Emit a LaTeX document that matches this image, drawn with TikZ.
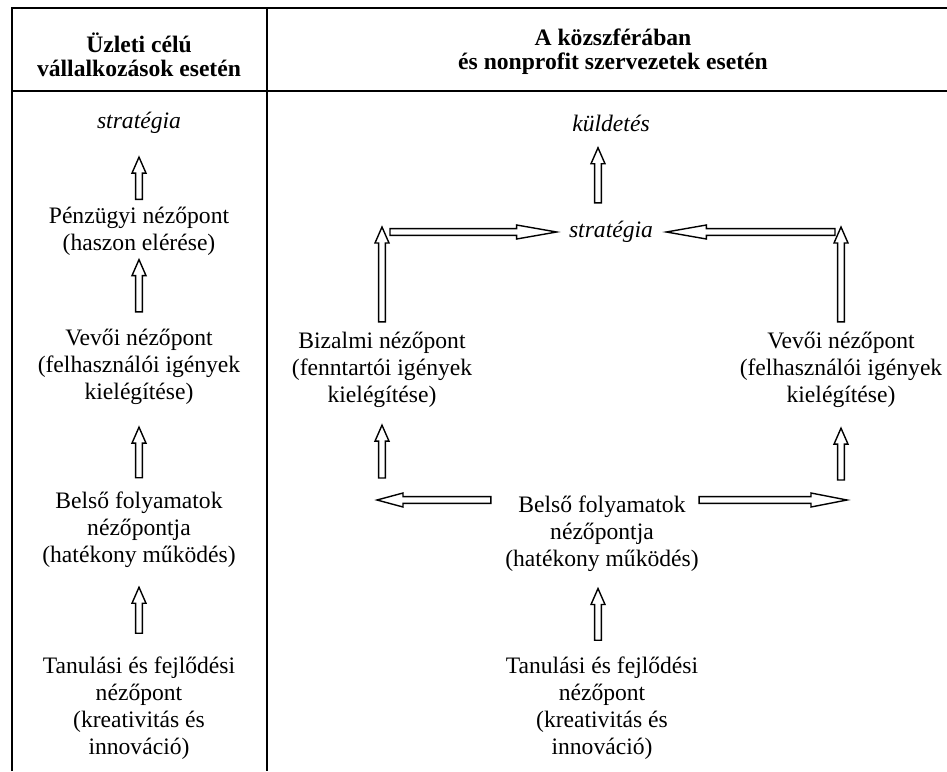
\documentclass[tikz,border=0pt]{standalone}
\usepackage{fontspec}
\setmainfont{Liberation Serif}
\usetikzlibrary{calc}

\tikzset{
  gap start/.store in=\gapA, gap start=0pt,
  gap end/.store in=\gapB, gap end=0pt,
  tip length/.store in=\tipL, tip length=8pt,
  hollow/.style={line width=0.7pt, to path={
    ($(\tikztostart)!\gapA!(\tikztotarget)!1.7pt!90:(\tikztotarget)$)
    -- ($(\tikztotarget)!\gapB+\tipL!(\tikztostart)!1.7pt!-90:(\tikztostart)$)
    -- ($(\tikztotarget)!\gapB+\tipL!(\tikztostart)!3.5pt!-90:(\tikztostart)$)
    -- ($(\tikztotarget)!\gapB!(\tikztostart)$)
    -- ($(\tikztotarget)!\gapB+\tipL!(\tikztostart)!3.5pt!90:(\tikztostart)$)
    -- ($(\tikztotarget)!\gapB+\tipL!(\tikztostart)!1.7pt!90:(\tikztostart)$)
    -- ($(\tikztostart)!\gapA!(\tikztotarget)!1.7pt!-90:(\tikztotarget)$)
    -- cycle}},
  rule/.style={line width=1.2pt},
  headtxt/.style={font=\bfseries\fontsize{11.8}{12}\selectfont}
}

\begin{document}
\begin{tikzpicture}
[x=0.5pt, y=-0.5pt, every node/.style={inner sep=0pt, align=center, font=\fontsize{11.8}{13.5}\selectfont}]
\useasboundingbox (0, 0) rectangle (947, 771);
\node (hl) [headtxt] at (139, 55) {Üzleti célú\\vállalkozások esetén};
\node (hr) [headtxt] at (613, 52) {A közszférában\\és nonprofit szervezetek esetén};
\node (strat1) at (139, 123) {\textit{stratégia}};
\node (penz1) at (139, 231) {Pénzügyi nézőpont\\(haszon elérése)};
\node (vevo1) at (139, 367) {Vevői nézőpont\\(felhasználói igények\\kielégítése)};
\node (bels1) at (139, 530) {Belső folyamatok\\nézőpontja\\(hatékony működés)};
\node (tan1) at (139, 708) {Tanulási és fejlődési\\nézőpont\\(kreativitás és\\innováció)};
\node (kuld) at (611, 123) {\textit{küldetés}};
\node (strat2) at (611, 232) {\textit{stratégia}};
\node (biz) at (382, 370) {Bizalmi nézőpont\\(fenntartói igények\\kielégítése)};
\node (vevo2) at (841, 370) {Vevői nézőpont\\(felhasználói igények\\kielégítése)};
\node (bels2) [anchor=north] at (602, 495) {Belső folyamatok\\nézőpontja\\(hatékony működés)};
\node (tan2) at (602, 708) {Tanulási és fejlődési\\nézőpont\\(kreativitás és\\innováció)};
\coordinate (bl) at (382, 227);
\coordinate (sl) at (390, 232);
\coordinate (cr) at (841, 227);
\coordinate (sr) at (835, 232);
\coordinate (bl2) at (382, 478);
\coordinate (ll) at (377, 500);
\coordinate (br2) at (841, 480);
\coordinate (lr) at (847, 500);
% table
\draw [rule] (12, 771) -- (12, 8) -- (947, 8);
\draw [rule] (12, 91) -- (947, 91);
\draw [rule] (267, 8) -- (267, 771);
% left column
\draw [hollow, gap start=3.5pt, gap end=11.5pt] (penz1.north) to (strat1.south);
\draw [hollow, gap start=8.5pt, gap end=2pt] (vevo1.north) to (penz1.south);
\draw [hollow, gap start=7pt, gap end=11pt] (bels1.north) to (vevo1.south);
\draw [hollow, gap start=11.5pt, gap end=9.5pt] (tan1.north) to (bels1.south);
% right column
\draw [hollow, gap start=9pt, gap end=8pt] ([xshift=-6.5pt]strat2.north) to ([xshift=-6.5pt]kuld.south);
\draw [hollow, tip length=20pt, gap end=6pt] (sl) to (strat2.west);
\draw [hollow, tip length=20pt, gap end=6.5pt] (sr) to (strat2.east);
\draw [hollow, gap start=5pt] (biz.north) to (bl);
\draw [hollow, gap start=5pt] (vevo2.north) to (cr);
\draw [hollow, gap end=8.5pt] (bl2) to (biz.south);
\draw [hollow, gap end=10pt] (br2) to (vevo2.south);
\draw [hollow, tip length=13pt, gap start=7pt] ([yshift=-2.5pt]bels2.north west) to (ll);
\draw [hollow, tip length=18pt] ([yshift=-2.5pt]bels2.north east) to (lr);
\draw [hollow, gap start=8pt, gap end=8.5pt] ([xshift=-2pt]tan2.north) to ([xshift=-2pt]bels2.south);
\end{tikzpicture}
\end{document}
